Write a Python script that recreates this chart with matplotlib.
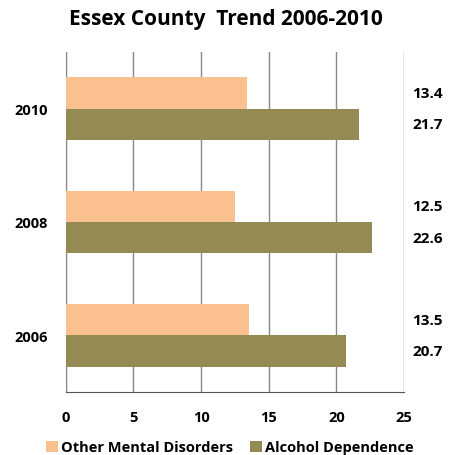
import matplotlib.pyplot as plt
import numpy as np

years = ['2006', '2008', '2010']
other_mental = [13.5, 12.5, 13.4]
alcohol = [20.7, 22.6, 21.7]
series_names = ['Other Mental Disorders', 'Alcohol Dependence']

plt.rcParams['font.family'] = ['Open Sans', 'DejaVu Sans']
plt.rcParams['font.weight'] = 'bold'

fig = plt.figure(figsize=(4.51, 4.56), dpi=100)
ax = fig.add_axes([0.146, 0.138, 0.75, 0.746])

y = np.arange(len(years))
h = 0.277
b1 = ax.barh(y + h / 2, other_mental, height=h, color='#FAC090', label=series_names[0], zorder=3)
b2 = ax.barh(y - h / 2, alcohol, height=h, color='#948A54', label=series_names[1], zorder=3)

ax.set_xlim(0, 25)
ax.set_ylim(-0.5, 2.5)
ax.set_xticks([0, 5, 10, 15, 20, 25])
ax.set_yticks(y)
ax.set_yticklabels(years)
ax.tick_params(length=0, labelsize=10.5, pad=13)
ax.tick_params(axis='x', pad=13)
ax.grid(axis='x', color='#888888', linewidth=1, zorder=0)
for s in ['top', 'right']:
    ax.spines[s].set_visible(False)
ax.spines['left'].set_color('#888888')
ax.spines['bottom'].set_color('#555555')

# values written on the right side
for i in range(len(years)):
    ax.text(1.025, (y[i] + h / 2 + 0.5) / 3, '%.1f' % other_mental[i],
            transform=ax.transAxes, va='center', ha='left', fontsize=11)
    ax.text(1.025, (y[i] - h / 2 + 0.5) / 3, '%.1f' % alcohol[i],
            transform=ax.transAxes, va='center', ha='left', fontsize=11)

fig.text(0.5, 0.957, 'Essex County  Trend 2006-2010', ha='center', va='center',
         fontsize=15, fontweight='bold')
fig.legend(handles=[b1, b2], loc='center', bbox_to_anchor=(0.51, 0.017), ncol=2,
           frameon=False, fontsize=10.5, handlelength=0.8, handleheight=0.8,
           handletextpad=0.2, columnspacing=1.2)

fig.savefig('out.png', dpi=100)
